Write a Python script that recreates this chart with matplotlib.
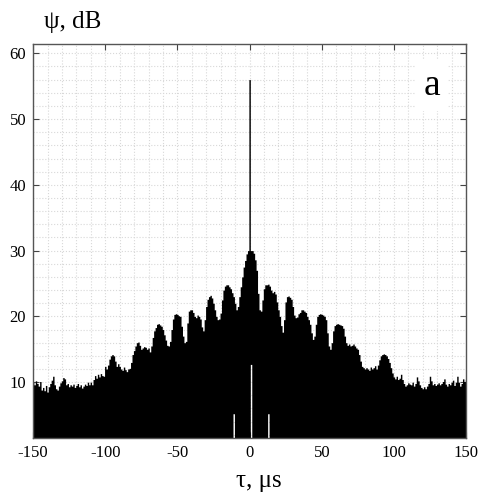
import numpy as np
import matplotlib.pyplot as plt
from matplotlib.ticker import MultipleLocator

plt.rcParams['font.family'] = ['Liberation Serif', 'DejaVu Serif']
plt.rcParams['axes.unicode_minus'] = False

# Datos: retardo (µs) y nivel superior de la envolvente (dB)
tau = np.arange(-150, 151, 1)

psi_upper = [
    # -150 .. -101
    10.0, 9.6, 10.2, 9.8, 9.4, 10.1, 8.8, 9.2, 8.7, 9.5,
    8.5, 9.3, 9.8, 10.3, 10.9, 9.6, 9.0, 8.8, 9.4, 9.9,
    10.2, 10.7, 10.5, 9.6, 9.8, 9.3, 9.6, 9.4, 9.7, 9.2,
    9.5, 9.8, 9.3, 9.6, 9.1, 9.4, 9.7, 9.5, 10.0, 9.6,
    10.0, 9.6, 10.4, 11.0, 10.6, 11.2, 10.8, 11.3, 11.0, 10.9,
    # -100 .. -51
    12.4, 12.0, 12.6, 13.5, 14.0, 14.2, 14.0, 13.2, 12.4, 12.8,
    12.4, 12.0, 11.8, 12.3, 11.9, 11.6, 12.0, 12.1, 13.0, 14.2,
    14.8, 15.5, 16.0, 16.1, 15.6, 15.0, 15.2, 15.4, 15.3, 15.0,
    15.2, 14.6, 15.5, 16.8, 17.8, 18.3, 18.8, 18.9, 18.7, 18.5,
    18.0, 17.2, 16.4, 15.6, 15.5, 16.2, 18.0, 19.6, 20.3, 20.4,
    # -50 .. -1
    20.3, 20.1, 20.0, 18.5, 17.0, 16.0, 16.2, 19.0, 20.8, 21.0,
    21.0, 20.6, 20.0, 19.8, 20.2, 20.0, 19.6, 18.4, 17.8, 19.5,
    21.5, 22.6, 23.0, 23.2, 22.8, 22.0, 21.0, 20.0, 19.5, 19.6,
    20.5, 22.5, 24.0, 24.6, 24.8, 24.8, 24.5, 24.2, 23.6, 23.0,
    22.0, 21.0, 21.5, 23.0, 24.5, 26.0, 27.5, 28.5, 29.5, 30.0,
    # 0
    56.0,
    # 1 .. 50
    30.0, 30.0, 29.6, 28.6, 27.0, 23.5, 21.0, 20.8, 22.5, 24.2,
    24.8, 24.8, 24.9, 24.6, 24.0, 23.6, 23.8, 23.4, 22.2, 21.0,
    20.0, 18.6, 17.6, 19.5, 22.2, 23.0, 23.1, 22.9, 22.6, 21.5,
    20.2, 19.8, 19.9, 20.4, 20.6, 21.0, 21.0, 20.8, 20.6, 20.0,
    19.5, 18.8, 17.5, 16.5, 17.0, 18.8, 20.0, 20.3, 20.4, 20.3,
    # 51 .. 100
    20.2, 20.0, 19.5, 17.5, 15.5, 15.0, 16.0, 17.8, 18.6, 18.8,
    18.9, 18.8, 18.7, 18.6, 18.2, 17.0, 16.0, 15.6, 15.8, 15.5,
    15.6, 15.8, 15.5, 15.2, 15.0, 14.2, 13.2, 12.4, 12.2, 12.0,
    12.2, 12.0, 11.8, 12.3, 12.0, 12.2, 12.5, 12.0, 12.6, 13.4,
    14.0, 14.2, 14.3, 14.2, 14.0, 13.6, 13.0, 12.2, 11.4, 10.8,
    # 101 .. 150
    10.5, 10.9, 10.4, 10.6, 11.2, 10.4, 9.8, 9.4, 9.6, 9.9,
    9.7, 9.6, 10.0, 9.4, 9.8, 10.8, 10.2, 9.6, 9.2, 9.0,
    9.3, 9.0, 9.4, 9.8, 10.9, 10.2, 9.6, 9.8, 9.5, 9.7,
    9.9, 9.6, 9.8, 10.1, 10.5, 9.7, 9.4, 9.8, 9.6, 10.0,
    10.3, 9.5, 10.0, 10.9, 10.0, 9.4, 9.8, 10.5, 10.1, 10.4,
]

# Huecos blancos cerca del centro: nivel inferior de la envolvente
gap_tau = [-11, 1, 13]
gap_floor = [5.2, 12.7, 5.2]

psi_lower = np.zeros(len(tau))
for t, f in zip(gap_tau, gap_floor):
    psi_lower[tau == t] = f

fig = plt.figure(figsize=(4.8, 4.95), dpi=100)
ax = fig.add_axes([0.069, 0.115, 0.902, 0.796])

ax.fill_between(tau, psi_lower, psi_upper, step='mid', color='black', linewidth=0)

ax.set_xlim(-150, 150)
ax.set_ylim(1.5, 61.4)
ax.xaxis.set_major_locator(MultipleLocator(50))
ax.xaxis.set_minor_locator(MultipleLocator(10))
ax.yaxis.set_minor_locator(MultipleLocator(2))
ax.set_yticks([10, 20, 30, 40, 50, 60])
ax.grid(True, which='both', linestyle=':', color='#d8d8d8', linewidth=0.8)
ax.set_axisbelow(True)

ax.tick_params(which='major', direction='in', length=4, top=True, right=True,
               labelsize=12, color='#444444', pad=5)
ax.tick_params(which='minor', length=0)
for s in ax.spines.values():
    s.set_color('#555555')
    s.set_linewidth(1.0)

ax.text(0.92, 0.894, 'a', transform=ax.transAxes, fontsize=27,
        ha='center', va='center',
        bbox=dict(facecolor='white', edgecolor='none', pad=6))

fig.text(0.092, 0.955, 'ψ, dB', fontsize=18, ha='left', va='center')
fig.text(0.54, 0.028, 'τ, μs', fontsize=18, ha='center', va='center')

fig.savefig('out.png', dpi=100)
